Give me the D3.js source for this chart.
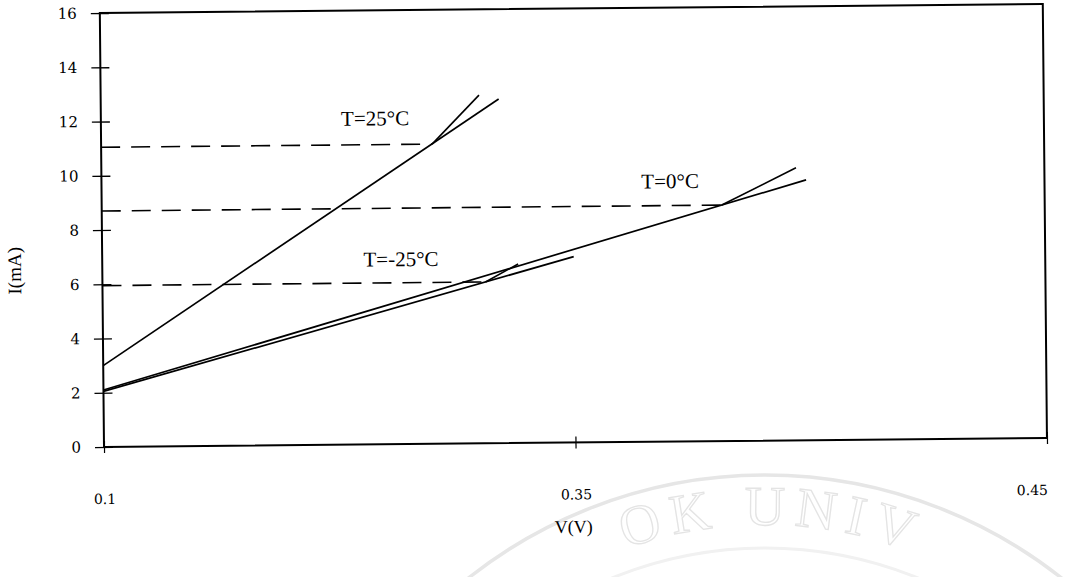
<!DOCTYPE html>
<html>
<head>
<meta charset="utf-8">
<script src="https://cdn.jsdelivr.net/npm/d3@7/dist/d3.min.js"></script>
<style>
  html, body { margin: 0; padding: 0; background: #fff; }
  svg { display: block; }
</style>
</head>
<body>
<svg id="chart" width="1071" height="577"></svg>
<script>
// I–V characteristics at three temperatures: fitted line, knee branch and
// the dashed reference current at each knee.
const temperatures = ["T=25°C", "T=0°C", "T=-25°C"];
const lineV = [[0.1, 0.311], [0.1, 0.4736], [0.1, 0.35]];
const lineI = [[3.0, 12.69], [2.1, 9.6], [2.05, 6.85]];
const kneeI = [11.05, 8.7, 5.95];
const kneeV = [0.2755, 0.4288, 0.3031];
const branchEndV = [0.3006, 0.4683, 0.3205];
const branchEndI = [12.84, 10.05, 6.6];
const labelV = [0.2454, 0.4015, 0.2584];
const labelI = [12.03, 9.61, 6.83];

const yTickValues = [0, 2, 4, 6, 8, 10, 12, 14, 16];
const xTickValues = [0.1, 0.35, 0.6];
const xTickLabels = ["0.1", "0.35", "0.45"];

const svg = d3.select("#chart");
const W = 1071, H = 577;
const m = { left: 104, right: 1047, top: 13, bottom: 447 };

svg.append("rect").attr("width", W).attr("height", H).attr("fill", "#fff");

// faint seal in the background
const wm = svg.append("g").attr("class", "seal");
const cx = 765, cy = 953;
wm.append("circle").attr("cx", cx).attr("cy", cy).attr("r", 478)
  .attr("fill", "none").attr("stroke", "#e6e6e6").attr("stroke-width", 3.5);
wm.append("circle").attr("cx", cx).attr("cy", cy).attr("r", 405)
  .attr("fill", "none").attr("stroke", "#f1f1f1").attr("stroke-width", 3);
const rText = 428;
wm.append("path").attr("id", "sealArc")
  .attr("d", `M${cx - rText},${cy} A${rText},${rText} 0 0 1 ${cx + rText},${cy}`)
  .attr("fill", "none");
wm.append("text")
  .attr("font-family", "Liberation Serif, serif")
  .attr("font-size", 56)
  .attr("letter-spacing", 9)
  .attr("fill", "none").attr("stroke", "#e4e4e4").attr("stroke-width", 1.3)
  .append("textPath").attr("href", "#sealArc")
  .attr("startOffset", "50.5%").attr("text-anchor", "middle")
  .text("OK UNIV");

const x = d3.scaleLinear().domain([0.1, 0.6]).range([m.left, m.right]);
const y = d3.scaleLinear().domain([0, 16]).range([m.bottom, m.top]);

// the whole plot sits at a slight tilt
const g = svg.append("g").attr("transform", `rotate(-0.55, ${m.left}, ${m.bottom})`);

// plot frame
g.append("rect")
  .attr("x", m.left).attr("y", m.top)
  .attr("width", m.right - m.left).attr("height", m.bottom - m.top)
  .attr("fill", "none").attr("stroke", "#000").attr("stroke-width", 2);

// y axis with crossing ticks
const yAxis = g.append("g")
  .attr("transform", `translate(${m.left},0)`)
  .call(d3.axisLeft(y).tickValues(yTickValues).tickSize(9).tickPadding(14).tickFormat(d3.format("d")));
yAxis.select(".domain").remove();
yAxis.selectAll(".tick line").attr("x1", 9).attr("stroke", "#000").attr("stroke-width", 1.4);
yAxis.selectAll(".tick text")
  .attr("font-family", "DejaVu Serif, serif").attr("font-size", 15).attr("fill", "#000");

// x axis
const xAxis = g.append("g")
  .attr("transform", `translate(0,${m.bottom})`)
  .call(d3.axisBottom(x).tickValues(xTickValues).tickSize(6).tickPadding(41)
    .tickFormat((d, i) => xTickLabels[i]));
xAxis.select(".domain").remove();
xAxis.selectAll(".tick line").attr("y1", -6).attr("stroke", "#000").attr("stroke-width", 1.2);
xAxis.selectAll(".tick text")
  .attr("font-family", "DejaVu Serif, serif").attr("font-size", 14).attr("fill", "#000")
  .attr("text-anchor", (d, i) => i === xTickValues.length - 1 ? "end" : "middle");

// dashed reference currents
g.selectAll(".ref").data(temperatures).join("line")
  .attr("class", "ref")
  .attr("x1", x(0.1)).attr("x2", (d, i) => x(kneeV[i]))
  .attr("y1", (d, i) => y(kneeI[i])).attr("y2", (d, i) => y(kneeI[i]))
  .attr("stroke", "#000").attr("stroke-width", 1.6)
  .attr("stroke-dasharray", "19 11");

const line = d3.line().x(d => x(d[0])).y(d => y(d[1]));

// fitted lines
g.selectAll(".fit").data(temperatures).join("path")
  .attr("class", "fit")
  .attr("d", (d, i) => line(lineV[i].map((v, j) => [v, lineI[i][j]])))
  .attr("fill", "none").attr("stroke", "#000").attr("stroke-width", 1.7);

// branches above the knee
g.selectAll(".branch").data(temperatures).join("path")
  .attr("class", "branch")
  .attr("d", (d, i) => line([[kneeV[i], kneeI[i]], [branchEndV[i], branchEndI[i]]]))
  .attr("fill", "none").attr("stroke", "#000").attr("stroke-width", 1.6);

// temperature labels
g.selectAll(".tlabel").data(temperatures).join("text")
  .attr("class", "tlabel")
  .attr("x", (d, i) => x(labelV[i])).attr("y", (d, i) => y(labelI[i]))
  .attr("dy", "0.35em").attr("text-anchor", "middle")
  .attr("font-family", "Liberation Serif, serif").attr("font-size", 21)
  .attr("fill", "#000")
  .text(d => d);

// axis titles
g.append("text")
  .attr("transform", "translate(16,270) rotate(-90)")
  .attr("text-anchor", "middle").attr("dy", "0.35em")
  .attr("font-family", "Liberation Serif, serif").attr("font-size", 19)
  .text("I(mA)");
g.append("text")
  .attr("x", 573).attr("y", 531)
  .attr("text-anchor", "middle").attr("dy", "0.35em")
  .attr("font-family", "Liberation Serif, serif").attr("font-size", 18)
  .text("V(V)");
</script>
</body>
</html>
